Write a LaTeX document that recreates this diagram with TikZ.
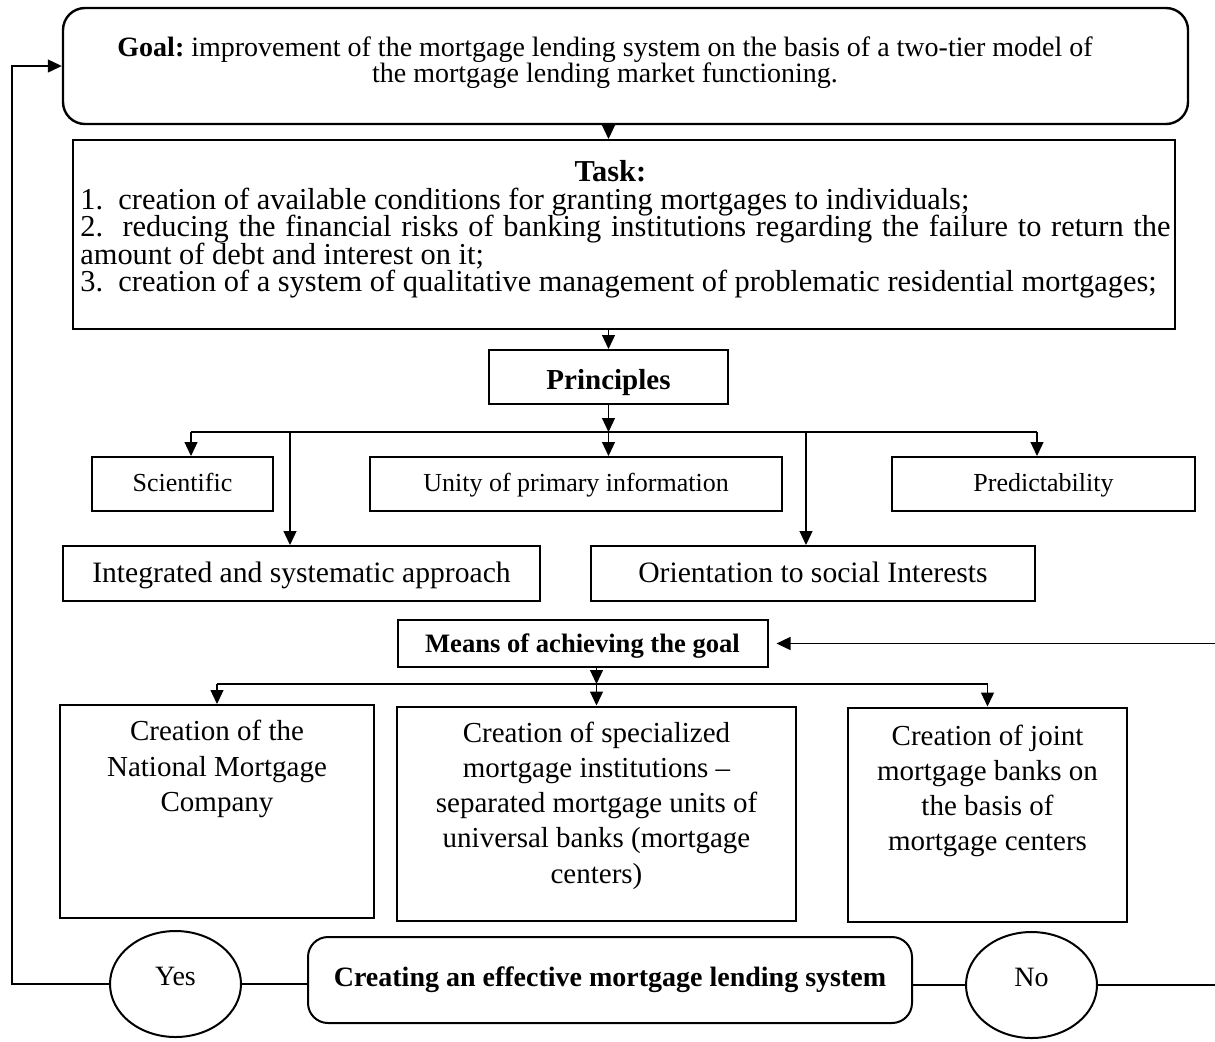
\documentclass[tikz,border=0pt]{standalone}
\usepackage{fontspec}
\setmainfont{Liberation Serif}
\usepackage{tikz}
\usetikzlibrary{shapes,arrows.meta,positioning}
\tikzstyle{block} = [draw, rectangle, line width=1pt, inner sep=0pt, align=center]
\tikzstyle{rblock} = [block, rounded corners=10pt]
\tikzstyle{oval} = [draw, ellipse, line width=1pt, inner sep=0pt,
    minimum width=65.5pt, minimum height=53pt, text depth=8pt,
    font=\fontsize{14}{16}\selectfont]
\tikzstyle{conn} = [draw, line width=0.6pt]
\tikzstyle{arr} = [conn, -{Triangle[length=7pt,width=6.5pt]}]
\tikzstyle{prinbox} = [block, minimum height=27pt, text height=9.5pt, text depth=2pt,
    font=\fontsize{13}{15}\selectfont]
\tikzstyle{prinwide} = [block, minimum height=27.5pt, text height=11pt, text depth=2.5pt,
    font=\fontsize{14.8}{17}\selectfont]
\tikzstyle{way} = [block, minimum height=107pt]
\tikzstyle{waytext} = [anchor=north, align=center, inner sep=0pt,
    font=\fontsize{14.5}{17.6}\selectfont]

\begin{document}
\begin{tikzpicture}[x=0.5pt, y=-0.5pt]
  \useasboundingbox (0,0) rectangle (1215,1041);
  % goal and task
  \node [rblock, line width=1.2pt, rounded corners=11pt, minimum width=562.5pt,
    minimum height=58pt] (goal) at (625.5,66) {};
  \node [align=center, inner sep=0pt, font=\fontsize{14}{13}\selectfont]
  (goaltext) at (605,63) {\textbf{Goal:}\ improvement of the mortgage lending system on the basis of a two-tier model of\\
    the mortgage lending market functioning.};
  \node [block, minimum width=551pt, minimum height=94.5pt] (task) at (624,234.5) {};
  \node [anchor=north west, inner sep=0pt, text width=545pt, align=justify,
    font=\fontsize{15.2}{13.75}\selectfont] (tasktext) at (80,160)
  {\lineskiplimit=-5pt
    {\centering\hspace*{-15pt}\textbf{Task:}\par}
    1.~~creation of available conditions for granting mortgages to individuals;\par
    2.~~reducing the financial risks of banking institutions regarding the failure to return the\linebreak
    amount of debt and interest on it;\par
    3.~~creation of a system of qualitative management of problematic residential mortgages;};
  % principles
  \node [block, minimum width=119.5pt, minimum height=27pt, text height=13pt, text depth=1pt,
    font=\fontsize{14.5}{16}\selectfont\bfseries] (principles) at (608.5,377) {Principles};
  \node [prinbox, minimum width=90.5pt] (sci) at (182.5,484) {Scientific};
  \node [prinbox, minimum width=206pt] (unity) at (576,484) {Unity of primary information};
  \node [prinbox, minimum width=151.5pt] (pred) at (1043.5,484) {Predictability};
  \node [prinwide, minimum width=238.5pt] (integ) at (301.5,573.5) {Integrated and systematic approach};
  \node [prinwide, minimum width=222pt] (orient) at (813,573.5) {Orientation to social Interests};
  % means
  \node [block, minimum width=185pt, minimum height=23.5pt, text height=10pt, text depth=1.5pt,
    font=\fontsize{13.3}{15}\selectfont\bfseries] (means) at (582.5,643.5) {Means of achieving the goal};
  \node [way, minimum width=157pt, minimum height=106.5pt] (c1) at (217,811.5) {};
  \node [way, minimum width=199.5pt] (c2) at (596.5,813.5) {};
  \node [way, minimum width=139.5pt] (c3) at (987.5,814.5) {};
  \node [waytext] (c1text) at ([yshift=-8pt]c1.north) {Creation of the\\National Mortgage\\Company};
  \node [waytext] (c2text) at ([yshift=-8pt]c2.north) {Creation of specialized\\mortgage institutions --\\separated mortgage units of\\universal banks (mortgage\\centers)};
  \node [waytext] (c3text) at ([yshift=-9pt]c3.north) {Creation of joint\\mortgage banks on\\the basis of\\mortgage centers};
  % result
  \node [oval] (yes) at (175.5,984) {Yes};
  \node [rblock, minimum width=302pt, minimum height=43pt, text depth=3pt,
    font=\fontsize{14}{16}\selectfont\bfseries] (creating) at (610,980)
  {Creating an effective mortgage lending system};
  \node [oval] (no) at (1031.5,985) {No};

  \draw [arr] (goal.south -| principles.north) -- (task.north -| principles.north);
  \draw [arr] (task.south -| principles.north) -- (principles.north);
  \path (principles.south) ++(0,27) coordinate (br);
  \path ([xshift=4.25pt]sci.north) coordinate (scin)
        ([xshift=-3.25pt]pred.north) coordinate (predn)
        ([xshift=-5.75pt]integ.north) coordinate (integn)
        ([xshift=-3.5pt]orient.north) coordinate (orientn);
  \draw [arr] (principles.south) -- (br);
  \draw [conn] (scin |- br) -- (predn |- br);
  \foreach \t in {scin,predn,integn,orientn}
    \draw [arr] (\t |- br) -- (\t);
  \draw [arr] (br) -- (unity.north -| br);

  \path (means.south -| c2.north) ++(0,16) coordinate (mb);
  \draw [arr] (means.south -| c2.north) -- (mb);
  \draw [conn] (c1.north |- mb) -- (c3.north |- mb);
  \foreach \t in {c1,c2,c3}
    \draw [arr] (\t.north |- mb) -- (\t.north);

  % feedback loops
  \coordinate (lloop) at (12,66);
  \coordinate (rloop) at (1218,643.5);
  \draw [arr] (yes.west) -| (lloop) -- (goal.west);
  \draw [conn] (yes.east) -- (yes.east -| creating.west);
  \draw [conn] (no.west -| creating.east) -- (no.west);
  \draw [arr, shorten >=4pt] (no.east) -| (rloop) -- (means.east);
\end{tikzpicture}
\end{document}
